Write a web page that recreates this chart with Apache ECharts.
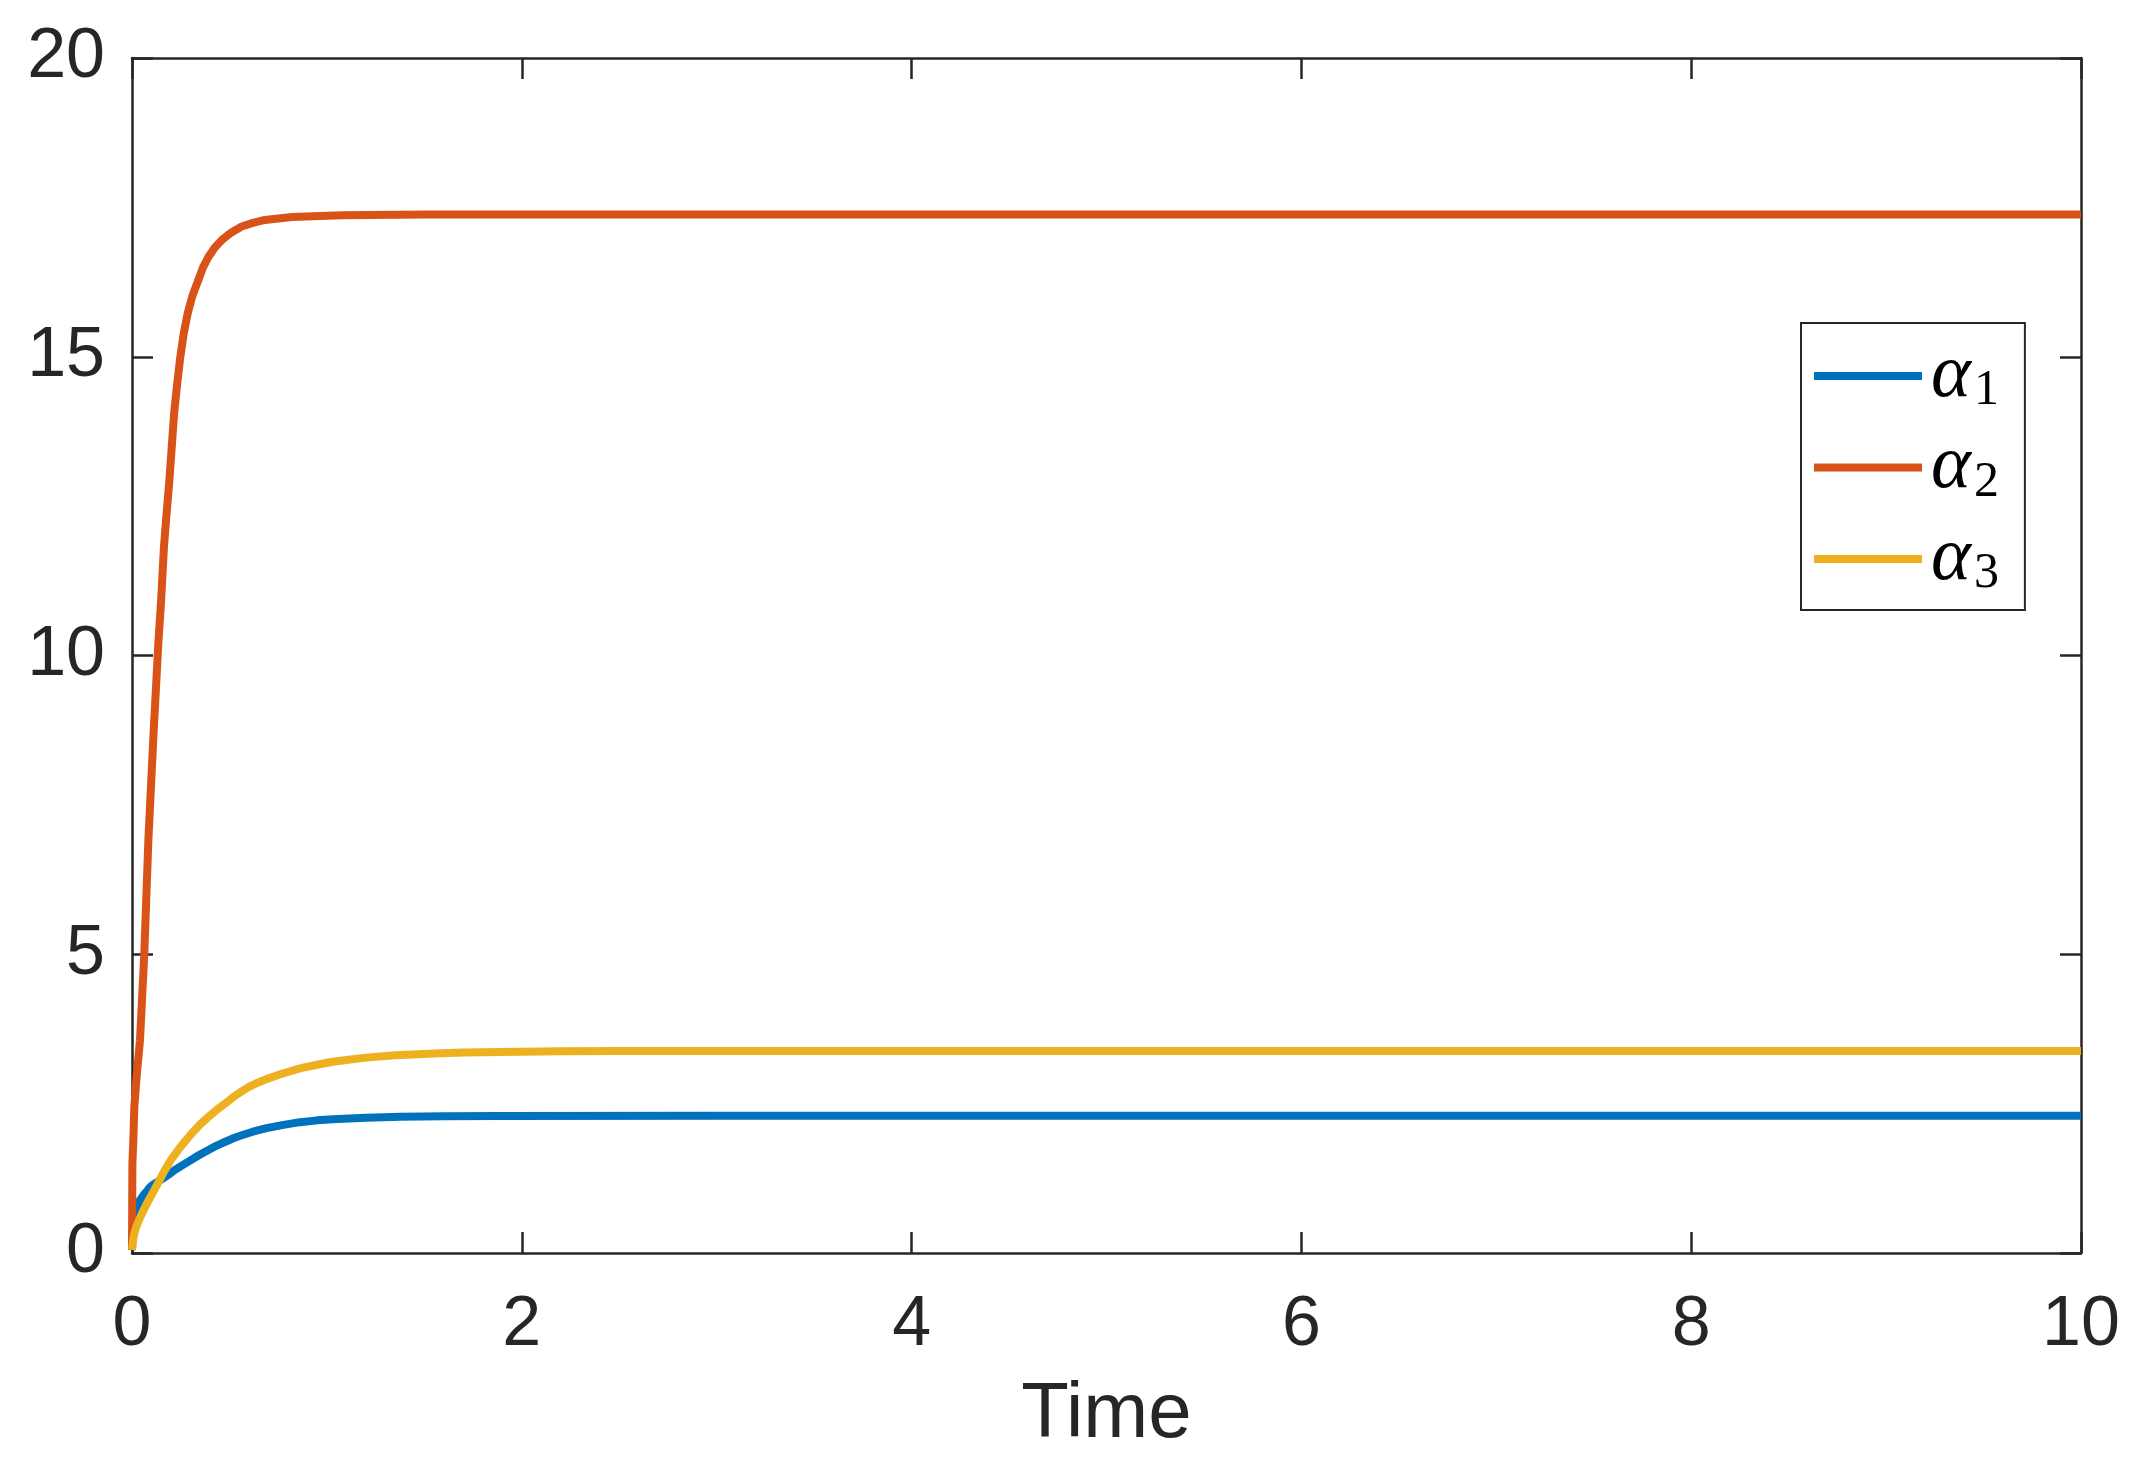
<!DOCTYPE html>
<html>
<head>
<meta charset="utf-8">
<script src="https://cdn.jsdelivr.net/npm/echarts@6/dist/echarts.min.js"></script>
<style>html,body{margin:0;padding:0;background:#fff;}#c{width:2146px;height:1462px;}</style>
</head>
<body>
<div id="c"></div>
<script>
var xTicks = [0, 2, 4, 6, 8, 10];
var yTicks = [0, 5, 10, 15, 20];
var seriesNames = ['α1', 'α2', 'α3'];

var t1 = [0, 0.004, 0.008, 0.015, 0.025, 0.04, 0.055, 0.067, 0.08, 0.092, 0.11, 0.135, 0.155, 0.178, 0.2, 0.22, 0.26, 0.3, 0.345, 0.39, 0.43, 0.47, 0.52, 0.563, 0.62, 0.69, 0.77, 0.862, 0.95, 1.03, 1.2, 1.375, 1.6, 1.89, 3, 10];
var a1 = [0.05, 0.35, 0.52, 0.66, 0.77, 0.88, 0.95, 1.0, 1.05, 1.1, 1.15, 1.2, 1.24, 1.29, 1.34, 1.39, 1.47, 1.55, 1.64, 1.72, 1.79, 1.85, 1.92, 1.97, 2.03, 2.09, 2.14, 2.19, 2.22, 2.24, 2.265, 2.28, 2.288, 2.292, 2.295, 2.295];

var t2 = [0, 0.002, 0.007, 0.012, 0.025, 0.041, 0.063, 0.084, 0.109, 0.135, 0.149, 0.164, 0.178, 0.192, 0.216, 0.232, 0.248, 0.266, 0.286, 0.31, 0.34, 0.365, 0.392, 0.425, 0.46, 0.51, 0.563, 0.62, 0.682, 0.82, 1.08, 1.5, 10];
var a2 = [0.1, 1.5, 1.9, 2.45, 3.0, 3.56, 5.0, 6.91, 8.59, 10.2, 10.9, 11.82, 12.4, 12.94, 14.05, 14.55, 15.0, 15.4, 15.73, 16.02, 16.28, 16.5, 16.67, 16.83, 16.95, 17.08, 17.18, 17.24, 17.29, 17.34, 17.37, 17.38, 17.38];

var t3 = [0, 0.005, 0.01, 0.02, 0.032, 0.045, 0.06, 0.08, 0.1, 0.13, 0.169, 0.2, 0.24, 0.27, 0.306, 0.349, 0.4, 0.44, 0.477, 0.52, 0.56, 0.6, 0.645, 0.69, 0.75, 0.8, 0.862, 0.95, 1.03, 1.1, 1.2, 1.35, 1.55, 1.7, 1.89, 2.2, 2.5, 10];
var a3 = [0.05, 0.2, 0.3, 0.42, 0.52, 0.62, 0.72, 0.85, 0.97, 1.15, 1.39, 1.56, 1.74, 1.86, 2.0, 2.15, 2.3, 2.41, 2.5, 2.61, 2.7, 2.78, 2.85, 2.91, 2.98, 3.03, 3.09, 3.15, 3.2, 3.23, 3.27, 3.31, 3.34, 3.355, 3.365, 3.375, 3.38, 3.38];

var colors = ['#0072BD', '#D95319', '#EDB120'];
var axisColor = '#262626';

function pairs(t, v) { return t.map(function (x, i) { return [x, v[i]]; }); }

var chart = echarts.init(document.getElementById('c'), null, {renderer: 'canvas'});

function mkSeries(name, t, v, c) {
  return {
    name: name, type: 'line', data: pairs(t, v), xAxisIndex: 0, yAxisIndex: 0,
    showSymbol: false, symbol: 'none', smooth: false,
    lineStyle: {color: c, width: 8, join: 'round', cap: 'butt'}, itemStyle: {color: c}, animation: false, z: 3
  };
}

var tickFont = {fontFamily: 'Liberation Sans, Arial, sans-serif', fontSize: 70, color: axisColor};

chart.setOption({
  backgroundColor: '#fff',
  animation: false,
  color: colors,
  grid: {left: 132, right: 65, top: 58, bottom: 209, containLabel: false},
  legend: {
    left: 1801, top: 323, orient: 'vertical',
    data: seriesNames.map(function (n) { return {name: n, icon: 'rect'}; }),
    itemWidth: 108, itemHeight: 8, itemGap: 13.5,
    padding: [15, 26, 11, 13],
    borderColor: axisColor, borderWidth: 2, backgroundColor: '#fff',
    selectedMode: false,
    formatter: function (n) { return '{a|α}{s|' + n.slice(1) + '}'; },
    textStyle: {
      color: '#000',
      rich: {
        a: {fontFamily: 'Liberation Serif, DejaVu Serif, serif', fontStyle: 'italic', fontSize: 76, lineHeight: 70, verticalAlign: 'middle', padding: [0, 0, 0, 4], color: '#000'},
        s: {fontFamily: 'Liberation Serif, DejaVu Serif, serif', fontSize: 50, lineHeight: 80, verticalAlign: 'bottom', padding: [0, 0, 0, 3], color: '#000'}
      }
    }
  },
  xAxis: [{
    type: 'value', min: 0, max: 10, interval: 2, position: 'bottom',
    name: 'Time', nameLocation: 'middle', nameGap: 123,
    nameTextStyle: {fontFamily: 'Liberation Sans, Arial, sans-serif', fontSize: 78, color: axisColor},
    axisLine: {show: true, onZero: false, lineStyle: {color: axisColor, width: 2.5}},
    axisTick: {show: true, inside: true, length: 21, lineStyle: {color: axisColor, width: 2.5}},
    axisLabel: Object.assign({margin: 38, formatter: function (v) { return xTicks.indexOf(v) >= 0 ? String(v) : ''; }}, tickFont),
    splitLine: {show: false}
  }, {
    type: 'value', min: 0, max: 10, interval: 2, position: 'top',
    axisLine: {show: true, onZero: false, lineStyle: {color: axisColor, width: 2.5}},
    axisTick: {show: true, inside: true, length: 21, lineStyle: {color: axisColor, width: 2.5}},
    axisLabel: {show: false}, splitLine: {show: false}
  }],
  yAxis: [{
    type: 'value', min: 0, max: 20, interval: 5, position: 'left',
    axisLine: {show: true, onZero: false, lineStyle: {color: axisColor, width: 2.5}},
    axisTick: {show: true, inside: true, length: 21, lineStyle: {color: axisColor, width: 2.5}},
    axisLabel: Object.assign({margin: 27, formatter: function (v) { return yTicks.indexOf(v) >= 0 ? String(v) : ''; }}, tickFont),
    splitLine: {show: false}
  }, {
    type: 'value', min: 0, max: 20, interval: 5, position: 'right',
    axisLine: {show: true, onZero: false, lineStyle: {color: axisColor, width: 2.5}},
    axisTick: {show: true, inside: true, length: 21, lineStyle: {color: axisColor, width: 2.5}},
    axisLabel: {show: false}, splitLine: {show: false}
  }],
  series: [
    mkSeries(seriesNames[0], t1, a1, colors[0]),
    mkSeries(seriesNames[1], t2, a2, colors[1]),
    mkSeries(seriesNames[2], t3, a3, colors[2])
  ]
});
</script>
</body>
</html>
